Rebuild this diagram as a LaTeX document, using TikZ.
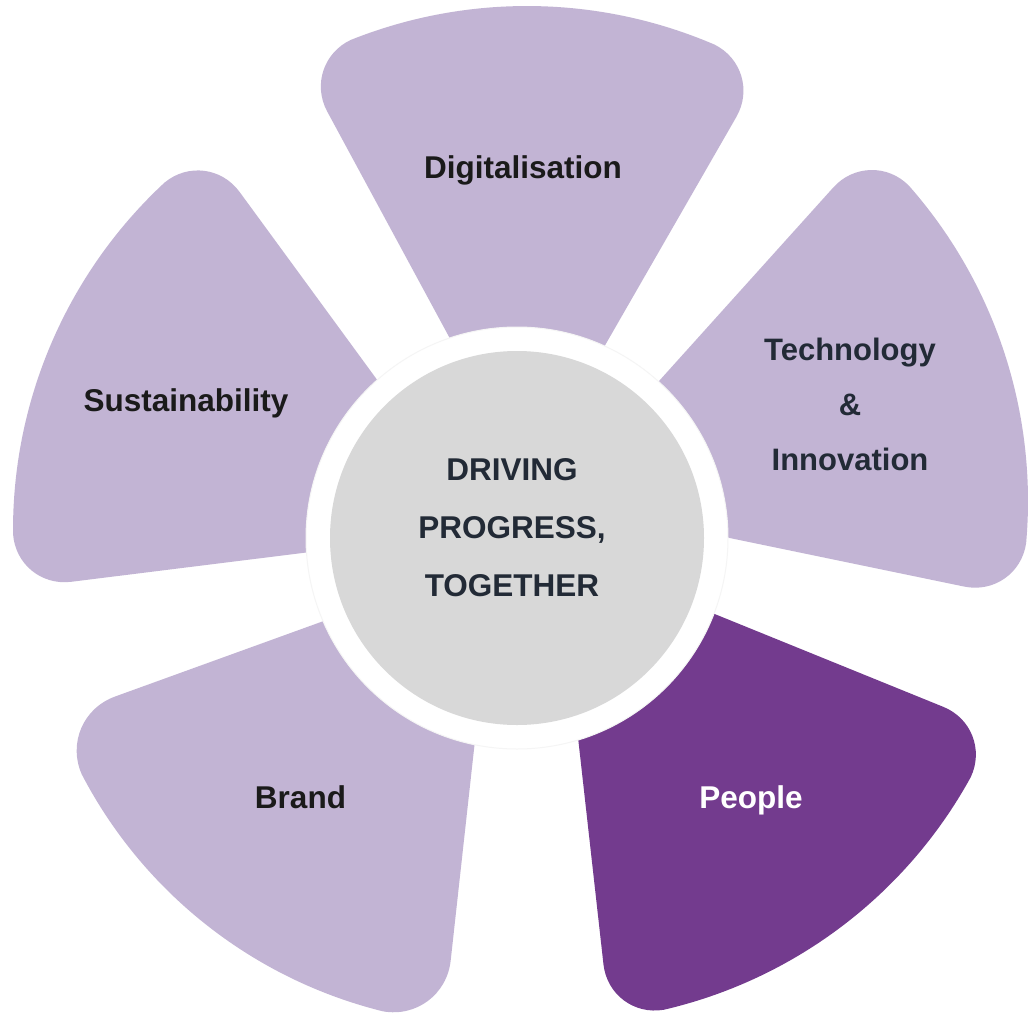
\documentclass[tikz,border=0pt]{standalone}
\usepackage{fontspec}
\setmainfont{Liberation Sans}
\usetikzlibrary{calc}
\definecolor{petal}{HTML}{C2B4D4}
\definecolor{petaldark}{HTML}{733B8E}
\definecolor{hub}{HTML}{D8D8D8}
\definecolor{inkblack}{HTML}{1A1A1A}
\definecolor{inkslate}{HTML}{222A36}
% #1 colour, #2 #3 apex, #4 #5 edge angles, #6 radius, #7 corner rounding
\newcommand\drawpetal[7]{%
  \pgfmathsetmacro\petRd{#6-#7}%
  \pgfmathsetmacro\petDel{#7/#6*180/pi}%
  \pgfmathsetmacro\petA{#4+\petDel}%
  \pgfmathsetmacro\petB{#5-\petDel}%
  \coordinate (pA) at (#2,#3);
  \coordinate (E1) at ($(pA)+(#4:\petRd pt)$);
  \coordinate (K1) at ($(pA)+(#4:#6pt)$);
  \coordinate (F1) at ($(pA)+(\petA:#6pt)$);
  \coordinate (F2) at ($(pA)+(\petB:#6pt)$);
  \coordinate (K2) at ($(pA)+(#5:#6pt)$);
  \coordinate (E2) at ($(pA)+(#5:\petRd pt)$);
  \fill[#1] (pA) -- (E1) .. controls ($(E1)!0.55!(K1)$) and ($(F1)!0.55!(K1)$) .. (F1)
     arc[start angle=\petA, end angle=\petB, radius=#6pt]
     .. controls ($(F2)!0.55!(K2)$) and ($(E2)!0.55!(K2)$) .. (E2) -- cycle;
}
\begin{document}
\begin{tikzpicture}[x=1pt,y=1pt,
  lbl/.style={font=\bfseries\fontsize{31.5}{40}\selectfont, inner sep=0pt, anchor=base}]
\useasboundingbox (0,0) rectangle (1028,-1012);
\fill[white] (0,0) rectangle (1028,-1012);
% petals
\drawpetal{petal}{527}{-481}{60.1}{118.4}{475}{55}     % Digitalisation
\drawpetal{petal}{551}{-501}{-11.7}{48.0}{477}{55}     % Technology & Innovation
\drawpetal{petaldark}{557}{-550}{-83.6}{-22.1}{472}{55} % People
\drawpetal{petal}{495}{-559}{199.9}{263.7}{466}{62}    % Brand
\drawpetal{petal}{487}{-530}{126.2}{187.1}{474}{55}    % Sustainability
% hub
\filldraw[fill=white, draw=black!4, line width=1pt] (517,-538) circle[radius=211pt];
\fill[hub] (517,-538) circle[radius=187pt];
% labels
\node[lbl, text=inkblack] (dig) at (523,-178.3) {Digitalisation};
\node[lbl, text=inkblack] (sus) at (186,-411.7) {Sustainability};
\node[lbl, text=inkblack] (brand) at (300.5,-808.3) {Brand};
\node[lbl, text=white] (people) at (751,-808.3) {People};
\node[lbl, text=inkslate, font=\bfseries\fontsize{31}{54.7}\selectfont] (tech) at (850,-470)
  {\begin{tabular}[b]{@{}c@{}}Technology\\\&\\Innovation\end{tabular}};
\node[lbl, text=inkslate, font=\bfseries\fontsize{31.5}{58.3}\selectfont] (hubtext) at (512,-596.7)
  {\begin{tabular}[b]{@{}c@{}}DRIVING\\PROGRESS,\\TOGETHER\end{tabular}};
\end{tikzpicture}
\end{document}
